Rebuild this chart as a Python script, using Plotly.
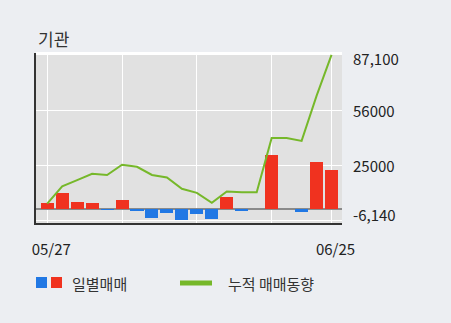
import plotly.graph_objects as go

# ---- data ----
dates = ["05/27", "05/28", "05/29", "05/30", "06/02", "06/04", "06/05", "06/09", "06/10", "06/11",
         "06/12", "06/13", "06/16", "06/17", "06/18", "06/19", "06/20", "06/23", "06/24", "06/25"]
daily = [3700, 9300, 4400, 3700, -300, 5400, -500, -4800, -1900, -6140,
         -2600, -5600, 6900, -900, 0, 30900, 0, -1600, 26900, 22400]
cumulative = [3300, 13000, 16500, 20100, 19400, 25200, 24000, 19400, 18000, 11600,
              9300, 3700, 10100, 9600, 9600, 40200, 40200, 38600, 64000, 87100]
grid_dates = ["05/27", "06/04", "06/12", "06/19", "06/25"]
grid_text = ["05/27", "", "", "", "06/25"]
y_ticks = [-6140, 25000, 56000, 87100]
y_tick_text = ["-6,140", "25000", "56000", "87,100"]
title = "기관"
legend_bar = "일별매매"
legend_line = "누적 매매동향"

# ---- style ----
W, H = 451, 323
L, R, T, B = 36, 342, 53, 223
RED, BLUE, GREEN = "#f0321f", "#2178e4", "#76b82a"
PAGE_BG, PLOT_BG = "#eceef2", "#e1e1e1"
FONT = "Noto Sans CJK KR"

def px(x):
    return (x - L) / (R - L)

def py(y):
    return (B - y) / (B - T)

fig = go.Figure()
fig.add_trace(go.Bar(
    x=dates, y=daily, width=0.87,
    marker=dict(color=[RED if v >= 0 else BLUE for v in daily], line=dict(width=0)),
    showlegend=False, hoverinfo="skip"))
fig.add_trace(go.Scatter(
    x=dates, y=cumulative, mode="lines",
    line=dict(color=GREEN, width=2), showlegend=False, hoverinfo="skip"))

shapes = [
    # top white edge
    dict(type="line", xref="paper", yref="paper", x0=0, x1=1, y0=1, y1=1,
         line=dict(color="white", width=2), layer="below"),
    # legend
    dict(type="rect", xref="paper", yref="paper", x0=px(36), x1=px(47), y0=py(277), y1=py(288),
         fillcolor=BLUE, line=dict(width=0)),
    dict(type="rect", xref="paper", yref="paper", x0=px(51), x1=px(62), y0=py(277), y1=py(288),
         fillcolor=RED, line=dict(width=0)),
    dict(type="line", xref="paper", yref="paper", x0=px(180), x1=px(212), y0=py(283), y1=py(283),
         line=dict(color=GREEN, width=5)),
]

annotations = [
    dict(text=title, xref="paper", yref="paper", x=px(36), y=py(38), xanchor="left", yanchor="middle",
         showarrow=False, font=dict(size=17, color="#333333", family=FONT)),
    dict(text=legend_bar, xref="paper", yref="paper", x=px(70), y=py(283), xanchor="left", yanchor="middle",
         showarrow=False, font=dict(size=15, color="#333333", family=FONT)),
    dict(text=legend_line, xref="paper", yref="paper", x=px(226), y=py(283), xanchor="left", yanchor="middle",
         showarrow=False, font=dict(size=15, color="#333333", family=FONT)),
]
shifts = {-6140: 6, 25000: 0, 56000: 0, 87100: -4}
for v, t in zip(y_ticks, y_tick_text):
    annotations.append(dict(text=t, xref="paper", yref="y", x=1, y=v, xanchor="left", yanchor="middle",
                            xshift=9, yshift=shifts[v], showarrow=False,
                            font=dict(size=15, color="#222222", family=FONT)))

fig.update_layout(
    width=W, height=H,
    margin=dict(l=L, r=W - R, t=T, b=H - B, pad=0),
    paper_bgcolor=PAGE_BG, plot_bgcolor=PLOT_BG,
    bargap=0, showlegend=False,
    shapes=shapes, annotations=annotations,
    font=dict(family=FONT, color="#222222"),
    xaxis=dict(type="category", categoryorder="array", categoryarray=dates,
               range=[-0.75, 19.7], tickvals=grid_dates, ticktext=grid_text,
               showgrid=True, gridcolor="white", gridwidth=1,
               showline=True, linecolor="#333333", linewidth=2,
               ticks="", ticklabelstandoff=12, ticklabelshift=4,
               tickfont=dict(size=15, color="#222222", family=FONT), fixedrange=True),
    yaxis=dict(range=[-7665, 88150], tickvals=y_ticks, showticklabels=False,
               showgrid=True, gridcolor="white", gridwidth=1,
               zeroline=True, zerolinecolor="#8a8a8a", zerolinewidth=2,
               showline=True, linecolor="#333333", linewidth=2, ticks="", fixedrange=True),
)

fig.write_html("out.html", config={"displayModeBar": False})
